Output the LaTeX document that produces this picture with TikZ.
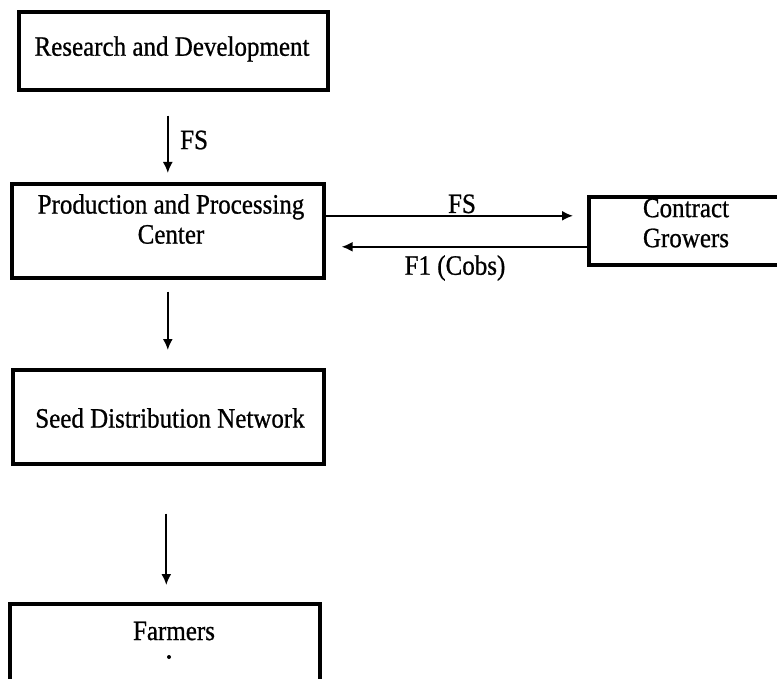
\documentclass[tikz,border=0pt]{standalone}
\usepackage{fontspec}
\setmainfont{Liberation Serif}[FakeBold=0.8]
\usetikzlibrary{arrows.meta}
% slightly tall, heavy serif text as in the printed chart
\newcommand\tallline[1]{\scalebox{1}[1.12]{#1}}
\begin{document}
\begin{tikzpicture}[x=1pt,y=-1pt,
  box/.style={draw=black,line width=3.6pt,inner sep=0pt,anchor=north west},
  lbl/.style={inner sep=0pt,font=\fontsize{25}{30}\selectfont,align=center},
  arr/.style={line width=1.9pt,-{Latex[length=11pt,width=10pt]}}]
\useasboundingbox (0,0) rectangle (777,679);
\clip (0,0) rectangle (777,679);
\fill[white] (0,0) rectangle (777,679);
% boxes
\node[box,minimum width=309pt,minimum height=78pt] (rd) at (17,10) {};
\node[box,minimum width=312pt,minimum height=94pt] (ppc) at (10,182) {};
\node[box,minimum width=220pt,minimum height=68pt] (cg) at (587,195) {};
\node[box,minimum width=311pt,minimum height=94pt] (sdn) at (11,368) {};
\node[box,minimum width=310pt,minimum height=110pt] (fa) at (8,602) {};
% box texts
\node[lbl] (trd) at (172,49) {\tallline{Research and Development}};
\node[lbl] (tppc) at (171,219) {\tallline{Production and Processing}\\\tallline{Center}};
\node[lbl] (tcg) at (686,223) {\tallline{Contract}\\\tallline{Growers}};
\node[lbl] (tsdn) at (170,418) {\tallline{Seed Distribution Network}};
\node[lbl] (tfa) at (174,631) {\tallline{Farmers}};
\fill (169,657) circle (2pt);
% connectors
\draw[arr,shorten <=24pt,shorten >=9pt] (ppc.north |- rd.south) -- (ppc.north);
\draw[arr,shorten >=14pt] ([yshift=15pt]ppc.east) -- ([yshift=15pt]ppc.east -| cg.west);
\draw[arr,shorten >=16pt] ([yshift=-16pt]cg.west) -- ([yshift=-16pt]cg.west -| ppc.east);
\draw[arr,shorten <=12pt,shorten >=18pt] (ppc.south) -- (ppc.south |- sdn.north);
\draw[arr,shorten <=48pt,shorten >=17pt] ([xshift=-2pt]sdn.south) -- ([xshift=-2pt]sdn.south |- fa.north);
% connector labels
\node[lbl,anchor=west] (lfs1) at (180,140) {\tallline{FS}};
\node[lbl,anchor=base] (lfs2) at (462,213) {\tallline{FS}};
\node[lbl] (lf1) at (455,268) {\tallline{F1 (Cobs)}};
\end{tikzpicture}
\end{document}
